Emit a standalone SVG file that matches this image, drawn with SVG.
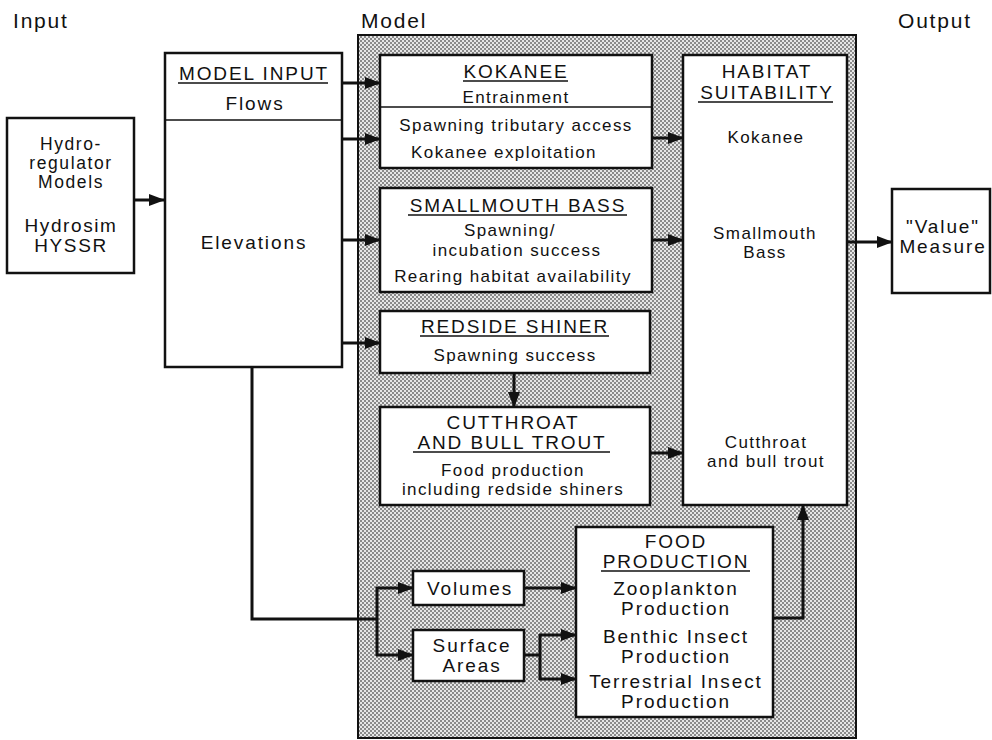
<svg xmlns="http://www.w3.org/2000/svg" width="992" height="740" viewBox="0 0 992 740">
<defs>
<pattern id="stip" width="4" height="4" patternUnits="userSpaceOnUse">
<rect width="4" height="4" fill="#e6e6e6"/>
<rect x="0" y="0" width="2" height="2" fill="#8a8a8a"/>
<rect x="2" y="2" width="2" height="2" fill="#8a8a8a"/>
</pattern>
<marker id="ah" markerUnits="userSpaceOnUse" markerWidth="16" markerHeight="12" refX="15" refY="6" orient="auto">
<path d="M0,0 L16,6 L0,12 Z" fill="#111"/>
</marker>
</defs>
<style>
text{font-family:"Liberation Sans",Arial,sans-serif;fill:#111;}
.big{font-size:19px;letter-spacing:1.9px;text-anchor:middle;}
.sm{font-size:17px;letter-spacing:1.4px;text-anchor:middle;}
.lbl{font-size:21px;letter-spacing:1.8px;}
.hy{font-size:17.5px;letter-spacing:1.6px;text-anchor:middle;}
.box{fill:#fff;stroke:#111;stroke-width:2.5;}
.ul{stroke:#111;stroke-width:1.3;}
.con{fill:none;stroke:#111;stroke-width:3;}
.arr{fill:none;stroke:#111;stroke-width:3;marker-end:url(#ah);}
</style>
<rect width="992" height="740" fill="#fff"/>

<g id="labels">
<text class="lbl" x="13" y="28">Input</text>
<text class="lbl" x="361" y="28">Model</text>
<text class="lbl" x="898" y="28">Output</text>
</g>

<g id="model-area">
<rect x="358" y="35" width="498" height="703" fill="url(#stip)" stroke="#111" stroke-width="2"/>
</g>

<g id="hydro">
<rect class="box" x="7" y="118" width="127" height="155" stroke-width="2"/>
<text class="hy" x="71" y="150">Hydro-</text>
<text class="hy" x="71" y="169">regulator</text>
<text class="hy" x="71" y="188">Models</text>
<text class="big" style="letter-spacing:1.6px" x="71" y="232">Hydrosim</text>
<text class="big" style="letter-spacing:1.6px" x="71" y="252">HYSSR</text>
</g>

<g id="model-input">
<rect class="box" x="165" y="53" width="177" height="314" stroke-width="2"/>
<line x1="165" y1="120" x2="342" y2="120" stroke="#111" stroke-width="1.5"/>
<text class="big" x="254" y="80">MODEL INPUT</text>
<line class="ul" x1="178" y1="83" x2="328" y2="83"/>
<text class="big" x="255" y="110">Flows</text>
<text class="big" x="254" y="249">Elevations</text>
</g>

<g id="kokanee">
<rect class="box" x="380" y="55" width="272" height="113" stroke-width="3"/>
<line x1="380" y1="107" x2="652" y2="107" stroke="#111" stroke-width="1.5"/>
<text class="big" x="516" y="78">KOKANEE</text>
<line class="ul" x1="463" y1="81" x2="568" y2="81"/>
<text class="sm" x="516" y="103">Entrainment</text>
<text class="sm" x="516" y="131">Spawning tributary access</text>
<text class="sm" x="504" y="158">Kokanee exploitation</text>
</g>

<g id="smallmouth">
<rect class="box" x="380" y="188" width="272" height="104" stroke-width="3"/>
<text class="big" x="518" y="212">SMALLMOUTH BASS</text>
<line class="ul" x1="408" y1="215" x2="627" y2="215"/>
<text class="sm" x="510" y="236">Spawning/</text>
<text class="sm" x="517" y="256">incubation success</text>
<text class="sm" x="513" y="282">Rearing habitat availability</text>
</g>

<g id="redside">
<rect class="box" x="380" y="311" width="270" height="62" stroke-width="3"/>
<text class="big" x="515" y="333">REDSIDE SHINER</text>
<line class="ul" x1="420" y1="336" x2="609" y2="336"/>
<text class="sm" x="515" y="361">Spawning success</text>
</g>

<g id="cutthroat">
<rect class="box" x="380" y="407" width="270" height="98" stroke-width="3"/>
<text class="big" x="513" y="429">CUTTHROAT</text>
<text class="big" x="512" y="449">AND BULL TROUT</text>
<line class="ul" x1="413" y1="452" x2="610" y2="452"/>
<text class="sm" x="513" y="476">Food production</text>
<text class="sm" x="513" y="495">including redside shiners</text>
</g>

<g id="habitat">
<rect class="box" x="683" y="55" width="164" height="450" stroke-width="3"/>
<text class="big" x="767" y="78">HABITAT</text>
<text class="big" x="767" y="99">SUITABILITY</text>
<line class="ul" x1="698" y1="102" x2="833" y2="102"/>
<text class="sm" x="766" y="143">Kokanee</text>
<text class="sm" x="765" y="239">Smallmouth</text>
<text class="sm" x="765" y="258">Bass</text>
<text class="sm" x="766" y="448">Cutthroat</text>
<text class="sm" x="766" y="467">and bull trout</text>
</g>

<g id="value">
<rect class="box" x="892" y="189" width="98" height="104" stroke-width="2"/>
<text class="big" x="943" y="233">"Value"</text>
<text class="big" x="943" y="253">Measure</text>
</g>

<g id="volumes">
<rect class="box" x="413" y="571" width="111" height="34" stroke-width="3"/>
<text class="big" x="470" y="595">Volumes</text>
</g>

<g id="surface">
<rect class="box" x="413" y="630" width="111" height="51" stroke-width="3"/>
<text class="big" x="472" y="652">Surface</text>
<text class="big" x="472" y="672">Areas</text>
</g>

<g id="food">
<rect class="box" x="576" y="527" width="197" height="190" stroke-width="3"/>
<text class="big" x="676" y="548">FOOD</text>
<text class="big" x="676" y="568">PRODUCTION</text>
<line class="ul" x1="601" y1="571" x2="750" y2="571"/>
<text class="big" x="676" y="595">Zooplankton</text>
<text class="big" x="676" y="615">Production</text>
<text class="big" x="676" y="643">Benthic Insect</text>
<text class="big" x="676" y="663">Production</text>
<text class="big" x="676" y="688">Terrestrial Insect</text>
<text class="big" x="676" y="708">Production</text>
</g>

<g id="connectors">
<line class="arr" x1="134" y1="200" x2="164" y2="200"/>
<line class="arr" x1="342" y1="83" x2="380" y2="83"/>
<line class="arr" x1="342" y1="139" x2="380" y2="139"/>
<line class="arr" x1="342" y1="240" x2="380" y2="240"/>
<line class="arr" x1="342" y1="343" x2="380" y2="343"/>
<line class="arr" x1="514" y1="373" x2="514" y2="407"/>
<line class="arr" x1="652" y1="138" x2="683" y2="138"/>
<line class="arr" x1="652" y1="240" x2="683" y2="240"/>
<line class="arr" x1="650" y1="453" x2="683" y2="453"/>
<line class="arr" x1="847" y1="242" x2="892" y2="242"/>
<path class="con" d="M252,367 V619 H377"/>
<line class="con" x1="377" y1="587" x2="377" y2="656"/>
<line class="arr" x1="376" y1="588" x2="413" y2="588"/>
<line class="arr" x1="376" y1="655" x2="413" y2="655"/>
<line class="arr" x1="524" y1="588" x2="576" y2="588"/>
<path class="con" d="M524,655 H540"/>
<line class="con" x1="540" y1="634" x2="540" y2="680"/>
<line class="arr" x1="539" y1="635" x2="576" y2="635"/>
<line class="arr" x1="539" y1="679" x2="576" y2="679"/>
<path class="arr" d="M773,618 H803 V505"/>
</g>
</svg>
